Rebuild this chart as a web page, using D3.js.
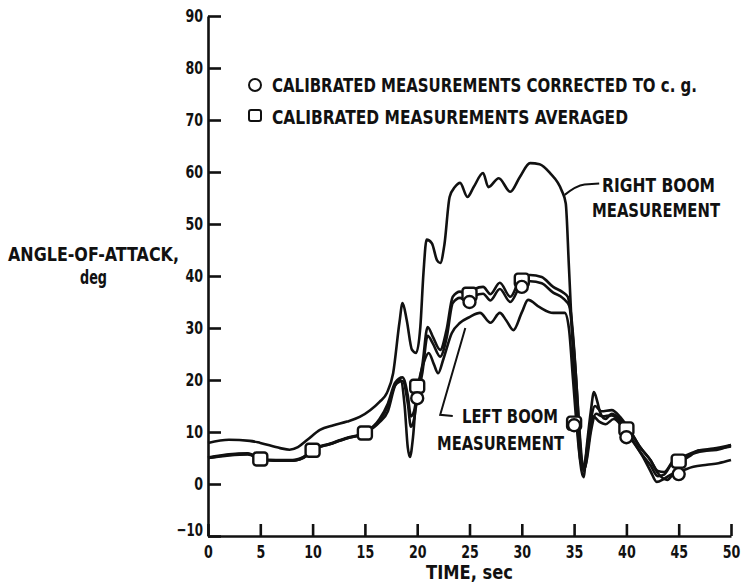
<!DOCTYPE html>
<html>
<head>
<meta charset="utf-8">
<script src="https://cdn.jsdelivr.net/npm/d3@7"></script>
<style>
  body { margin: 0; background: #fff; }
  svg text { font-family: "Liberation Sans Narrow", "DejaVu Sans Condensed", "Arial Narrow", sans-serif; font-weight: bold; fill: #111; }
</style>
</head>
<body>
<svg id="chart" width="741" height="584"></svg>
<script>
'use strict';

/* Data: [time sec, angle deg] */

var xTicks = [0, 5, 10, 15, 20, 25, 30, 35, 40, 45, 50];
var yTicks = [-10, 0, 10, 20, 30, 40, 50, 60, 70, 80, 90];

var rightBoom = [[0,7.9],[2,8.5],[4,8.3],[5,7.9],[6.9,6.9],[7.8,6.6],[8.6,7.1],[9.5,8.5],[10.7,10.4],[12,11.3],
  [13.3,12],[14.5,12.9],[15.5,14.2],[16.4,15.8],[17.1,17.5],[17.7,21.3],[18.3,31],[18.6,34.8],[19,31.5],[19.5,25.8],
  [19.9,25.2],[20.3,30.2],[20.6,40.6],[20.9,47],[21.4,46.3],[21.9,43],[22.2,42.5],[22.6,46],[23.1,55.2],[23.6,57.1],
  [24.1,57.9],[24.8,55.2],[25.4,57.1],[26.3,59.8],[26.8,57.1],[27.8,58.8],[28.9,56.2],[29.8,59],[30.8,61.7],[31.7,61.5],
  [32.7,59.8],[33.8,56.5],[34.2,54],[34.5,42],[34.9,25],[35.3,12],[35.6,4],[35.9,1.3],[36.2,7],[36.6,14],[36.9,17.7],
  [37.2,16],[37.5,13.7],[38,12.5],[38.6,13.5],[39.4,12.5],[40.3,10.4],[41.3,7.1],[42.3,4.6],[43,2.1],[43.9,0.8],
  [44.5,2.1],[45.1,4],[46,5.3],[47,6.5],[48.3,6.5],[50,7.5]];

var leftBoom = [[0,5],[2,5.6],[3.8,5.8],[5,4.8],[6.5,4.5],[8.1,4.5],[9.5,5.6],[10,6.5],[11.7,7.7],[13.3,8.8],[15,9.8],
  [16.4,11.9],[17.2,14],[17.9,19],[18.4,20],[18.8,15],[19.1,7],[19.3,5.2],[19.6,9],[19.9,16.5],[20.3,21],[20.7,23.8],
  [21.1,25.2],[21.6,23],[22,21.3],[22.5,24],[23.3,29],[24.1,31],[25,32.1],[26,32.9],[27,31],[27.9,32.9],[28.5,31.5],
  [29.2,29.6],[30,33],[30.6,35.4],[31.7,34],[33,32.9],[34.1,32.9],[34.5,30],[34.9,20],[35.3,10],[35.6,4.5],[36,3],
  [36.4,8],[36.8,13],[37.4,12],[38,11.5],[38.8,12.5],[39.6,11],[40.5,8.5],[41.5,5.5],[42.3,2.5],[42.9,0.4],[43.6,1],
  [44.5,2.1],[45.2,2.5],[46.4,3.3],[47.7,3.7],[48.8,4],[50,4.6]];

var correctedCurve = [[0,5.1],[2,5.7],[3.8,5.9],[5,4.9],[6.5,4.6],[8.1,4.6],[9.5,5.7],[10,6.6],[11.7,7.8],[13.3,8.9],
  [15,9.9],[16.4,12.5],[17.2,15.5],[17.9,19.5],[18.6,20.5],[19.1,17],[19.4,13],[19.7,14],[20,17.5],[20.5,23],[21,30.2],
  [21.5,28.3],[22.2,25.8],[22.8,29.6],[23.4,36],[24.1,37],[24.8,36.3],[25.5,37.5],[26.3,37.9],[27,36.5],[27.9,38.7],
  [28.9,36],[29.8,39.2],[30.8,40.2],[31.9,39.8],[33,37.9],[33.9,36.9],[34.4,36],[34.8,30],[35.2,20],[35.5,10],[35.8,3.3],
  [36.1,5],[36.5,11],[37,15],[37.6,14],[38.6,14.2],[39.4,12.9],[40.3,10.4],[41.3,7.1],[42.3,4.6],[43,2.5],[43.6,2.3],
  [44.5,4.5],[45.1,5],[45.8,5.6],[47,6.5],[48.3,6.8],[50,7.5]];

var averagedCurve = [[0,5],[2,5.5],[3.8,5.7],[5,4.8],[6.5,4.5],[8.1,4.5],[9.5,5.5],[10,6.5],[11.7,7.7],[13.3,8.8],
  [15,9.8],[16.4,12.2],[17.2,15],[17.9,19],[18.6,19.8],[19.1,15.5],[19.4,11],[19.7,12.5],[20,16.5],[20.5,21.5],[21,28.5],
  [21.5,27],[22.2,24.5],[22.8,28],[23.4,34.8],[24.1,35.8],[24.8,35],[25.5,36.2],[26.3,36.6],[27,35.3],[27.9,37.5],
  [28.9,35],[29.8,37.9],[30.8,39],[31.9,38.6],[33,36.8],[33.9,35.8],[34.6,34],[35,26],[35.3,17],[35.6,8],[35.9,2.5],
  [36.2,4.5],[36.6,10],[37.1,13.5],[37.7,13],[38.6,13.2],[39.4,12],[40.3,9.4],[41.3,6.2],[42.3,3.6],[43,1.5],[43.6,1.8],
  [44.3,3.8],[45.1,4.6],[45.8,5.4],[47,6.2],[48.3,6.6],[50,7.2]];

// symbols
var circleTimes = [20, 25, 30, 35, 40, 45];
var circleValues = [16.5, 35, 37.9, 11.3, 9, 1.9];
var squareTimes = [5, 10, 15, 20, 25, 30, 35, 40, 45];
var squareValues = [4.8, 6.5, 9.8, 18.8, 36.5, 39.2, 11.7, 10.6, 4.4];

var svg = d3.select('#chart');

var x = d3.scaleLinear().domain([0, 50]).range([208, 731]);
var y = d3.scaleLinear().domain([-10, 90]).range([536, 16]);

// narrow digits like the lettering guide used on the original
var squeeze = function (sel) {
    sel.style('font-size', '18px')
        .attr('textLength', function (d) { return String(d).length * 8.8; })
        .attr('lengthAdjust', 'spacingAndGlyphs');
};

/* Axes - ticks point inward */
var yAxis = svg.append('g')
    .attr('transform', 'translate(' + x(0) + ',0)')
    .call(d3.axisLeft(y).tickValues(yTicks).tickSize(-13).tickSizeOuter(0).tickPadding(5));
yAxis.selectAll('text').call(squeeze);
yAxis.selectAll('.tick').filter(function (d) { return d === -10; })
    .select('text').attr('dy', '-0.05em');

var xAxis = svg.append('g')
    .attr('transform', 'translate(0,' + y(-10) + ')')
    .call(d3.axisBottom(x).tickValues(xTicks).tickSize(-12).tickSizeOuter(0).tickPadding(9));
xAxis.selectAll('text').call(squeeze);

svg.selectAll('.domain, .tick line').attr('stroke', '#111').attr('stroke-width', 2.6);
svg.selectAll('.tick text').attr('fill', '#111');

/* Curves */
var line = d3.line()
    .x(function (d) { return x(d[0]); })
    .y(function (d) { return y(d[1]); })
    .curve(d3.curveMonotoneX);

[rightBoom, leftBoom, correctedCurve, averagedCurve].forEach(function (series) {
    svg.append('path')
        .datum(series)
        .attr('d', line)
        .attr('fill', 'none')
        .attr('stroke', '#111')
        .attr('stroke-width', 2.6)
        .attr('stroke-linejoin', 'round');
});

/* Measured points */
svg.selectAll('rect.avg')
    .data(squareTimes)
    .enter().append('rect')
    .attr('class', 'avg')
    .attr('x', function (d) { return x(d) - 7; })
    .attr('y', function (d, i) { return y(squareValues[i]) - 6.5; })
    .attr('width', 14).attr('height', 13).attr('rx', 3)
    .attr('fill', '#fff').attr('stroke', '#111').attr('stroke-width', 2.4);

svg.selectAll('circle.cor')
    .data(circleTimes)
    .enter().append('circle')
    .attr('class', 'cor')
    .attr('cx', function (d) { return x(d); })
    .attr('cy', function (d, i) { return y(circleValues[i]); })
    .attr('r', 6)
    .attr('fill', '#fff').attr('stroke', '#111').attr('stroke-width', 2.4);

/* Legend */
svg.append('circle').attr('cx', 255).attr('cy', 85).attr('r', 6)
    .attr('fill', '#fff').attr('stroke', '#111').attr('stroke-width', 2);
svg.append('rect').attr('x', 249).attr('y', 110).attr('width', 12).attr('height', 11).attr('rx', 2)
    .attr('fill', '#fff').attr('stroke', '#111').attr('stroke-width', 2);

var label = function (txt, tx, ty, size, len) {
    var t = svg.append('text').attr('x', tx).attr('y', ty).style('font-size', size + 'px').text(txt);
    if (len) t.attr('textLength', len).attr('lengthAdjust', 'spacingAndGlyphs');
    return t;
};

label('CALIBRATED MEASUREMENTS CORRECTED TO c. g.', 272, 92, 20, 425);
label('CALIBRATED MEASUREMENTS AVERAGED', 272, 124, 20, 356);

/* Annotations */
label('RIGHT BOOM', 602, 192, 20, 113);
label('MEASUREMENT', 592, 217, 20, 128);
label('LEFT BOOM', 462, 423, 20, 96);
label('MEASUREMENT', 437, 450, 20, 127);

label('ANGLE-OF-ATTACK,', 8, 261, 20, 171);
label('deg', 80, 284, 19, 27);
label('TIME, sec', 426, 579, 20, 87);

// leader lines
svg.append('path')
    .attr('d', 'M' + x(34.1) + ',' + y(55.6) + ' Q' + x(35.2) + ',' + y(57.4) + ' ' + x(36) + ',' + y(57.6) + ' L' + x(37.4) + ',' + y(57.8))
    .attr('fill', 'none').attr('stroke', '#111').attr('stroke-width', 2);
svg.append('path')
    .attr('d', 'M' + x(24.6) + ',' + y(30) + ' L' + x(22.2) + ',' + y(13.3) + ' L' + x(23.4) + ',' + y(13.1))
    .attr('fill', 'none').attr('stroke', '#111').attr('stroke-width', 2);
</script>
</body>
</html>
